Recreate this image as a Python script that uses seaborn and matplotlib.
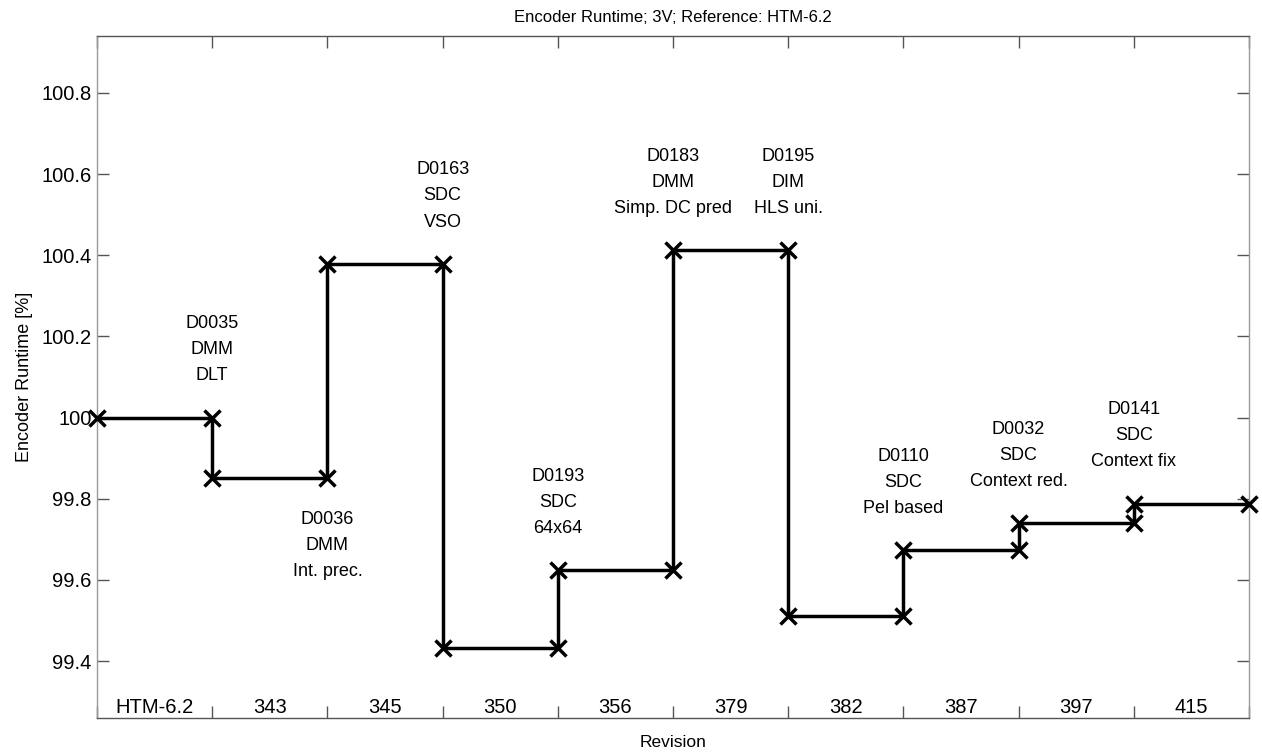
import numpy as np
import pandas as pd
import matplotlib
matplotlib.use("Agg")
import matplotlib.pyplot as plt
import seaborn as sns

# Data
revisions = ["HTM-6.2", "343", "345", "350", "356", "379", "382", "387", "397", "415"]
runtime = [100.0, 99.852, 100.379, 99.433, 99.624, 100.412, 99.511, 99.673, 99.740, 99.788]
change_labels = ["D0035\nDMM\nDLT", "D0036\nDMM\nInt. prec.", "D0163\nSDC\nVSO",
                 "D0193\nSDC\n64x64", "D0183\nDMM\nSimp. DC pred", "D0195\nDIM\nHLS uni.",
                 "D0110\nSDC\nPel based", "D0032\nSDC\nContext red.", "D0141\nSDC\nContext fix"]
label_side = ["above", "below", "above", "above", "above", "above", "above", "above", "above"]

sns.set_theme(style="white")
plt.rcParams['font.family'] = ['Liberation Sans', 'DejaVu Sans']
plt.rcParams['text.color'] = 'black'
plt.rcParams['axes.labelcolor'] = 'black'
plt.rcParams['xtick.color'] = 'black'
plt.rcParams['ytick.color'] = 'black'

# step points: each revision spans [i, i+1]
n = len(revisions)
xs = np.repeat(np.arange(n + 1), 2)[1:-1]
ys = np.repeat(runtime, 2)
steps = pd.DataFrame({"x": xs, "y": ys})

fig = plt.figure(figsize=(12.62, 7.56), dpi=100)
ax = fig.add_axes([0.0769, 0.0503, 0.9128, 0.9021])

sns.lineplot(data=steps, x="x", y="y", estimator=None, sort=False, ax=ax,
             color="black", lw=2.5, marker="x", markersize=12, markeredgewidth=2.5,
             markeredgecolor="black", clip_on=False, zorder=5)

ax.set_xlim(0, n)
ax.set_ylim(99.26, 100.94)
ax.set_yticks(np.arange(99.4, 100.81, 0.2))
ax.set_yticklabels(["99.4", "99.6", "99.8", "100", "100.2", "100.4", "100.6", "100.8"])
ax.set_xticks(np.arange(n + 1))
ax.set_xticklabels([])
ax.tick_params(axis="both", direction="in", length=8.5, width=1,
               top=True, right=True, bottom=True, left=True, labelsize=14.5, pad=4)
ax.tick_params(axis="both", color="#555555")
for sp in ax.spines.values():
    sp.set_color("#555555")
    sp.set_linewidth(1)
ax.spines["left"].set_color("#999999")
ax.spines["right"].set_color("#999999")

# revision labels along the bottom inside the axes
for i, r in enumerate(revisions):
    ax.text(i + 0.5, 0.015, r, transform=ax.get_xaxis_transform(),
            ha="center", va="center", fontsize=14.5)

# change annotations at each step
off = 0.167
for k, (lab, side) in enumerate(zip(change_labels, label_side)):
    a, b = runtime[k], runtime[k + 1]
    if side == "above":
        y = max(a, b) + off
    else:
        y = min(a, b) - off
    ax.text(k + 1, y, lab, ha="center", va="center", fontsize=13, linespacing=1.7)

ax.set_title("Encoder Runtime; 3V; Reference: HTM-6.2", fontsize=12, pad=10)
ax.set_xlabel("Revision", fontsize=12.5, labelpad=8)
ax.set_ylabel("Encoder Runtime [%]", fontsize=13, labelpad=6)

fig.savefig("out.png", dpi=100)
